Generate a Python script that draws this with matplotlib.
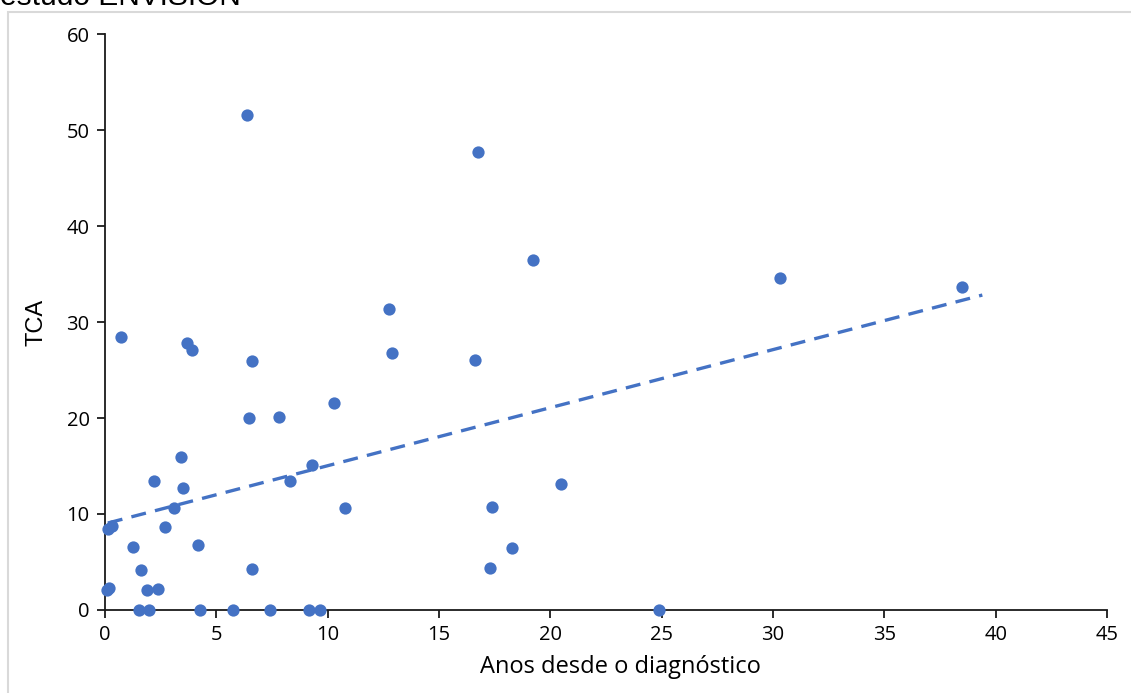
import numpy as np
import matplotlib.pyplot as plt
from matplotlib.patches import Rectangle

# Anos desde o diagnóstico vs TCA
anos = [0.1, 0.2, 0.13, 0.3, 0.72, 1.26, 1.6, 1.53, 2.0, 1.9, 2.4, 2.2, 2.7, 3.1,
        3.4, 3.5, 3.7, 3.9, 4.2, 4.27, 5.75, 6.4, 6.45, 6.6, 6.6, 7.43, 7.8, 8.3,
        9.15, 9.3, 9.64, 10.3, 10.8, 12.75, 12.9, 16.6, 16.75, 17.3, 17.4, 18.3,
        19.2, 20.5, 24.9, 30.3, 38.5]
tca = [2.1, 2.3, 8.4, 8.8, 28.4, 6.6, 4.2, 0.0, 0.0, 2.1, 2.2, 13.4, 8.6, 10.6,
       15.9, 12.7, 27.8, 27.1, 6.8, 0.0, 0.0, 51.6, 20.0, 25.9, 4.3, 0.0, 20.1, 13.4,
       0.0, 15.1, 0.0, 21.6, 10.6, 31.4, 26.8, 26.0, 47.7, 4.4, 10.7, 6.5,
       36.5, 13.1, 0.0, 34.6, 33.6]

# trendline endpoints (x) as drawn in the reference
trend_x = [0.13, 39.4]

azul = "#4472C4"

fig = plt.figure(figsize=(11.31, 6.93), dpi=100)
ax = fig.add_axes([0.0928, 0.1198, 0.886, 0.831])

ax.scatter(anos, tca, s=78, color=azul, zorder=3, clip_on=False, linewidths=0)

a, b = np.polyfit(anos, tca, 1)
tx = np.array(trend_x)
ax.plot(tx, a * tx + b, color=azul, lw=2.4, dashes=(4.5, 2.8), zorder=2)

ax.set_xlim(0, 45)
ax.set_ylim(0, 60)
ax.set_xticks(range(0, 46, 5))
ax.set_yticks(range(0, 61, 10))

for s in ["top", "right"]:
    ax.spines[s].set_visible(False)
for s in ["left", "bottom"]:
    ax.spines[s].set_linewidth(1.3)
    ax.spines[s].set_color("#1a1a1a")
ax.tick_params(direction="out", length=6, width=1.3, color="#1a1a1a",
               labelsize=14.5, pad=5)
for lbl in ax.get_xticklabels() + ax.get_yticklabels():
    lbl.set_family("Open Sans")

ax.set_xlabel("Anos desde o diagnóstico", fontsize=17, family="Open Sans")
ax.xaxis.set_label_coords(0.514, -0.078)
ax.set_ylabel("TCA", fontsize=17, family="Liberation Sans")
ax.yaxis.set_label_coords(-0.057, 0.5)

# chart frame and the cut-off caption above it
fig.patches.append(Rectangle((8 / 1131, -0.1), 1.2, 1 - 12 / 693 + 0.1,
                             transform=fig.transFigure, fill=False,
                             edgecolor="#d9d9d9", lw=1.5))
fig.text(0.0, 1 - 5 / 693, "estudo ENVISION", fontsize=21.5,
         family="Liberation Sans", va="baseline", ha="left")

fig.savefig("out.png", dpi=100)
